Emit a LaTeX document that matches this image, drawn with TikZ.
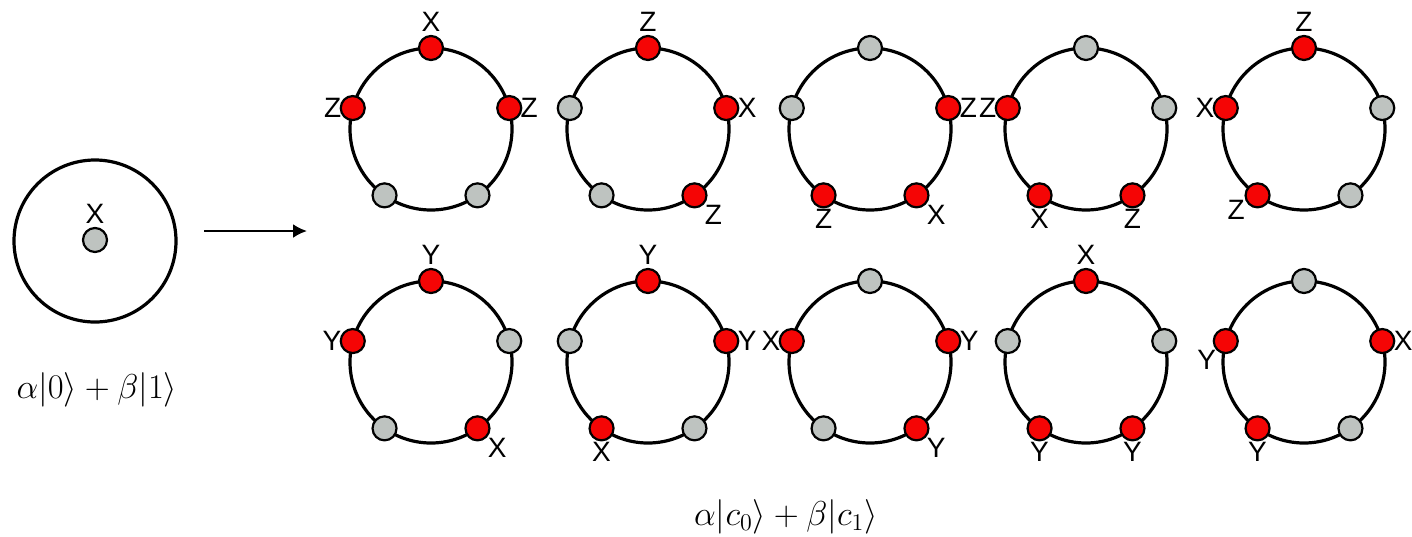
\documentclass[tikz,border=0pt]{standalone}
\usepackage{fontspec}
\newfontfamily\qlabelfont{Liberation Sans}
\usetikzlibrary{arrows.meta}
\definecolor{qubitred}{RGB}{245,5,5}
\definecolor{qubitgrey}{RGB}{190,195,192}
\tikzset{
	ring/.style={circle, draw, line width=1.6pt, minimum size=81pt, inner sep=0pt, outer sep=0pt},
	qubit/.style={circle, draw, line width=1.1pt, minimum size=12pt, inner sep=0pt, fill=#1},
	every label/.style={font=\qlabelfont\fontsize{14}{16}\selectfont, inner sep=0pt},
	statelabel/.style={font=\fontsize{17}{20}\selectfont}
}
\begin{document}
\begin{tikzpicture}[x=0.5pt, y=-0.5pt, >={Latex[length=7pt, width=7pt]}]
	\useasboundingbox (0,0) rectangle (1412,536);
	% single qubit
	\node[ring] (single) at (95,241) {};
	\node[qubit=qubitgrey, label={[label distance=1.5pt]above:X}] (singleq) at (95,240) {};
	\node[statelabel] (inlabel) at (97,390) {$\alpha|0\rangle + \beta|1\rangle$};
	\coordinate (arrowstart) at (204,231);
	\coordinate (arrowend) at (307,231);
	\draw[->, line width=1.2pt] (arrowstart) -- (arrowend);
	% encoded rings
	\foreach \n/\cx/\cy in {
			t1/431/129, t2/648/129, t3/870/129, t4/1086/129, t5/1304/129,
			b1/431/362, b2/648/362, b3/870/362, b4/1086/362, b5/1304/362
		} {
			\node[ring] (\n) at (\cx,\cy) {};
		}
	\foreach \n/\a in {
			t1/305, t1/235, t2/165, t2/235, t3/90, t3/165, t4/90, t4/15, t5/15, t5/305,
			b1/15, b1/235, b2/165, b2/305, b3/90, b3/235, b4/165, b4/15, b5/90, b5/305
		} {
			\node[qubit=qubitgrey] (\n-\a) at (\n.\a) {};
		}
	\foreach \n/\a/\t/\p/\d in {
			t1/90/X/above/1.5pt, t1/165/Z/left/-1pt, t1/15/Z/right/-1pt,
			t2/90/Z/above/1.5pt, t2/15/X/right/-1pt, t2/305/Z/below right/0.5pt,
			t3/15/Z/right/-1pt, t3/235/Z/below/0pt, t3/305/X/below right/0.5pt,
			t4/165/Z/left/-1pt, t4/235/X/below/0pt, t4/305/Z/below/0pt,
			t5/90/Z/above/1.5pt, t5/165/X/left/-1pt, t5/235/Z/-160/0pt,
			b1/90/Y/above/1.5pt, b1/165/Y/left/-1pt, b1/305/X/below right/0.5pt,
			b2/90/Y/above/1.5pt, b2/15/Y/right/-1pt, b2/235/X/below/0pt,
			b3/165/X/left/-1pt, b3/15/Y/right/-1pt, b3/305/Y/below right/0.5pt,
			b4/90/X/above/1.5pt, b4/235/Y/below/0pt, b4/305/Y/below/0pt,
			b5/15/X/right/-1pt, b5/165/Y/below left/0pt, b5/235/Y/below/0pt
		} {
			\node[qubit=qubitred, label={[label distance=\d]\p:\t}] (\n-\a) at (\n.\a) {};
		}
	\node[statelabel] (outlabel) at (786,517) {$\alpha|c_0\rangle + \beta|c_1\rangle$};
\end{tikzpicture}
\end{document}
